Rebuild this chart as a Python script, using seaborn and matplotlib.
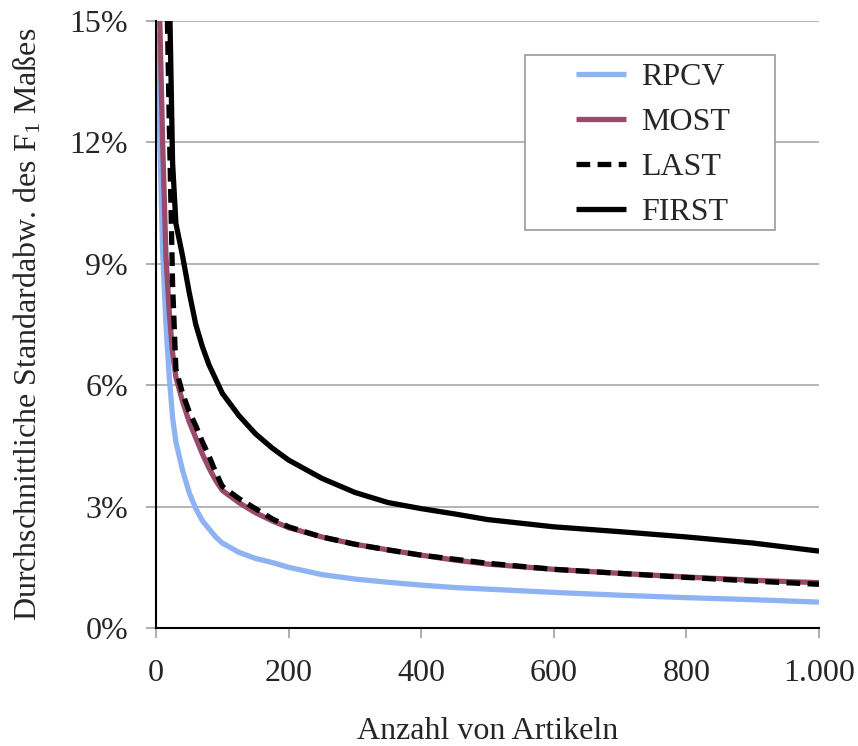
import matplotlib
matplotlib.use("Agg")
import matplotlib.pyplot as plt
from matplotlib.ticker import FuncFormatter
from matplotlib.patches import Rectangle
import seaborn as sns
import pandas as pd

x_articles = [2, 5, 10, 15, 20, 25, 30, 40, 50, 60, 70, 80, 90, 100, 125, 150, 175,
              200, 250, 300, 350, 400, 450, 500, 600, 700, 800, 900, 1000]
rpcv = [14.7, 12.6, 9.3, 7.5, 6.2, 5.2, 4.6, 3.9, 3.35, 2.95, 2.65, 2.45, 2.25, 2.1,
        1.87, 1.72, 1.62, 1.5, 1.32, 1.21, 1.13, 1.06, 1.0, 0.96, 0.88, 0.81, 0.75, 0.7, 0.64]
most = [17.0, 15.5, 12.0, 9.2, 7.8, 6.8, 6.2, 5.6, 5.1, 4.7, 4.3, 3.95, 3.65, 3.4,
        3.1, 2.85, 2.65, 2.48, 2.25, 2.07, 1.93, 1.8, 1.68, 1.58, 1.45, 1.35, 1.26, 1.18, 1.12]
last = [30.0, 25.0, 20.0, 17.0, 12.5, 8.5, 6.4, 5.8, 5.35, 5.0, 4.6, 4.25, 3.85, 3.5,
        3.2, 2.95, 2.7, 2.5, 2.25, 2.07, 1.93, 1.8, 1.7, 1.6, 1.45, 1.35, 1.25, 1.16, 1.08]
first = [40.0, 35.0, 28.0, 22.0, 16.0, 11.5, 10.0, 9.2, 8.3, 7.5, 6.95, 6.5, 6.15, 5.8,
         5.25, 4.8, 4.45, 4.15, 3.7, 3.35, 3.1, 2.95, 2.82, 2.68, 2.5, 2.38, 2.25, 2.1, 1.9]
series_names = ["RPCV", "MOST", "LAST", "FIRST"]
x_ticks = [0, 200, 400, 600, 800, 1000]
y_ticks = [0, 3, 6, 9, 12, 15]

sns.set_theme(style="white")
plt.rcParams['font.family'] = ['Liberation Serif', 'DejaVu Serif']
plt.rcParams['mathtext.fontset'] = 'custom'
plt.rcParams['mathtext.rm'] = 'Liberation Serif'
plt.rcParams['mathtext.it'] = 'Liberation Serif:italic'

FS = 23
LW = 3.8

df = pd.concat([
    pd.DataFrame({"x": x_articles, "y": vals, "series": name})
    for name, vals in zip(series_names, [rpcv, most, last, first])
])

colors = {"RPCV": "#8DB3F2", "MOST": "#9A4A6A", "LAST": "#000000", "FIRST": "#000000"}

fig = plt.figure(figsize=(8.58, 7.46), dpi=100)
ax = fig.add_axes([156/858, 1-628/746, (819-156)/858, (628-21)/746])

for name in series_names:
    sub = df[df["series"] == name]
    sns.lineplot(data=sub, x="x", y="y", ax=ax, color=colors[name], lw=LW,
                 label=name, estimator=None, sort=False)
    if name == "LAST":
        ax.lines[-1].set_dashes((2.6, 1.4))
    ax.lines[-1].set_solid_capstyle("butt")
    ax.lines[-1].set_solid_joinstyle("round")

ax.set_xlim(0, 1000)
ax.set_ylim(0, 15)
ax.set_xticks(x_ticks)
ax.set_yticks(y_ticks)
ax.xaxis.set_major_formatter(FuncFormatter(lambda v, p: f"{int(v):,}".replace(",", ".")))
ax.yaxis.set_major_formatter(FuncFormatter(lambda v, p: f"{int(v)}%"))
ax.yaxis.grid(True, color="#a8a8a8", lw=1.2)
ax.set_axisbelow(True)
for s in ["top", "right"]:
    ax.spines[s].set_visible(False)
for s in ["left", "bottom"]:
    ax.spines[s].set_color("black")
    ax.spines[s].set_linewidth(1.5)
ax.tick_params(axis="both", which="major", direction="out", length=7, width=1.2,
               color="#a0a0a0", labelsize=FS, bottom=True, left=True)
ax.tick_params(axis="x", pad=15)
ax.tick_params(axis="y", pad=13)

ax.set_xlabel("Anzahl von Artikeln", fontsize=FS, labelpad=21)
ax.set_ylabel("Durchschnittliche Standardabw. des F$_1$ Maßes", fontsize=FS, labelpad=19)

# legend box
box_x0, box_y0, box_x1, box_y1 = 525, 55, 775, 230
ax.add_patch(Rectangle((box_x0/858, 1-box_y1/746), (box_x1-box_x0)/858, (box_y1-box_y0)/746,
                       transform=fig.transFigure, facecolor="white", edgecolor="#999999",
                       lw=1.2, zorder=5))
leg = ax.legend(loc="upper left", bbox_to_anchor=(576/858, 1-63/746),
                bbox_transform=fig.transFigure,
                fontsize=FS, frameon=False, handlelength=1.55,
                handletextpad=0.5, borderpad=0.0, labelspacing=0.49, borderaxespad=0)
leg.set_zorder(6)
for h in leg.get_lines():
    h.set_linewidth(LW)

fig.savefig("out.png", dpi=100)
